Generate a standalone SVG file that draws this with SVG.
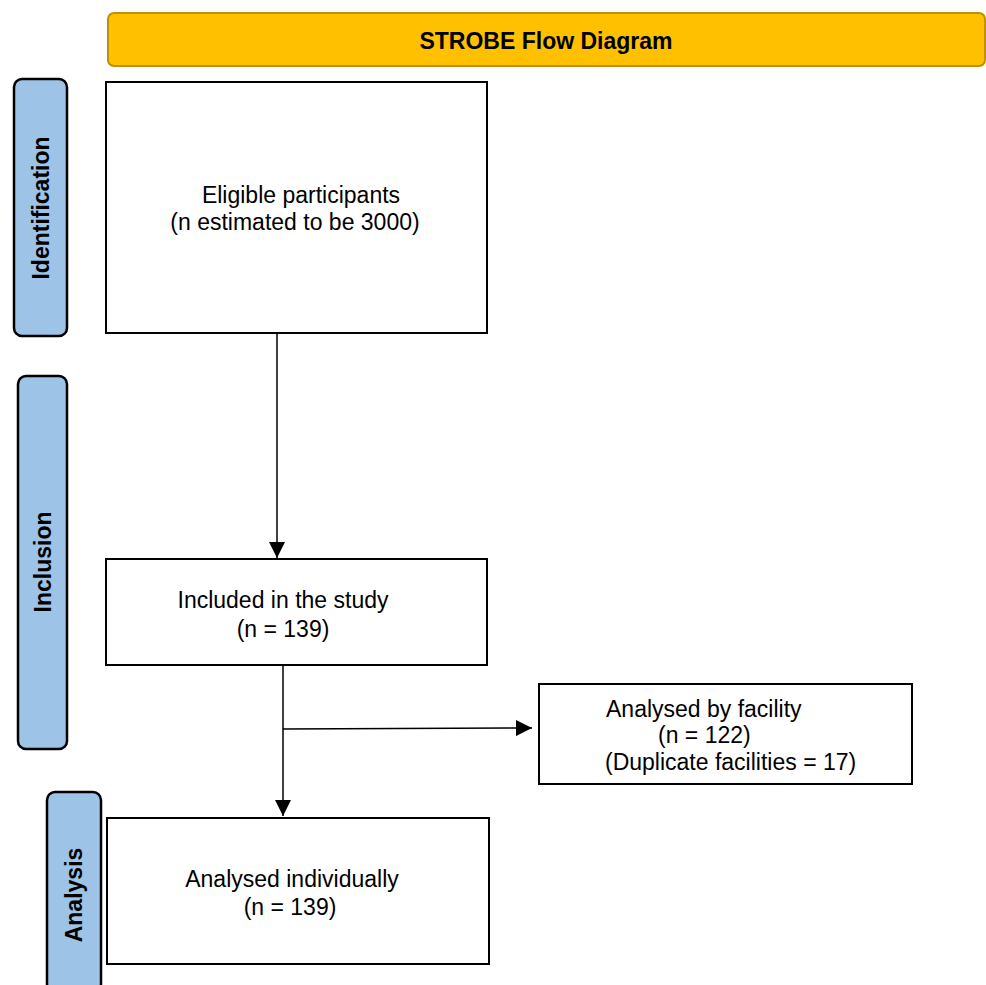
<svg xmlns="http://www.w3.org/2000/svg" width="986" height="985" viewBox="0 0 986 985">
<defs>
<style>
.box{fill:#fff;stroke:#000;stroke-width:2}
.side{fill:#9DC3E6;stroke:#000;stroke-width:2.5}
.t{font-family:"Liberation Sans",Arial,sans-serif;font-size:23px;fill:#000}
.st{font-family:"Liberation Sans",Arial,sans-serif;font-size:23px;font-weight:bold;fill:#000;text-anchor:middle}
.c{fill:none;stroke:#000;stroke-width:1.5}
</style>
<marker id="ah" viewBox="0 0 10 10" refX="10" refY="5" markerWidth="16" markerHeight="16" markerUnits="userSpaceOnUse" orient="auto">
<path d="M0,0 L10,5 L0,10 Z" fill="#000"/>
</marker>
</defs>
<rect width="986" height="985" fill="#fff"/>
<g id="title">
<rect x="108" y="13" width="877" height="53" rx="6" fill="#FFC000" stroke="#BF9000" stroke-width="2"/>
<text x="546" y="49" class="st">STROBE Flow Diagram</text>
</g>
<g id="side-identification">
<rect x="14" y="79" width="53" height="257" rx="8" class="side"/>
<text class="st" transform="translate(49,208) rotate(-90)">Identification</text>
</g>
<g id="side-inclusion">
<rect x="18" y="376" width="49" height="373" rx="8" class="side"/>
<text class="st" transform="translate(51,562) rotate(-90)">Inclusion</text>
</g>
<g id="side-analysis">
<rect x="47" y="792" width="54" height="200" rx="8" class="side"/>
<text class="st" transform="translate(82,895) rotate(-90)">Analysis</text>
</g>
<g id="eligible">
<rect x="106" y="82" width="381" height="251" class="box"/>
<text x="301" y="203" class="t" text-anchor="middle">Eligible participants</text>
<text x="295" y="230" class="t" text-anchor="middle">(n estimated to be 3000)</text>
</g>
<g id="included">
<rect x="106" y="559" width="381" height="106" class="box"/>
<text x="283" y="608" class="t" text-anchor="middle">Included in the study</text>
<text x="283" y="637" class="t" text-anchor="middle">(n = 139)</text>
</g>
<g id="facility">
<rect x="539" y="684" width="373" height="100" class="box"/>
<text x="606" y="717" class="t">Analysed by facility</text>
<text x="658" y="743" class="t">(n = 122)</text>
<text x="605" y="770" class="t">(Duplicate facilities = 17)</text>
</g>
<g id="individual">
<rect x="107" y="818" width="382" height="146" class="box"/>
<text x="292" y="887" class="t" text-anchor="middle">Analysed individually</text>
<text x="290" y="915" class="t" text-anchor="middle">(n = 139)</text>
</g>
<g id="connectors">
<line x1="277" y1="333" x2="277" y2="558" class="c" marker-end="url(#ah)"/>
<line x1="283" y1="665" x2="283" y2="816" class="c" marker-end="url(#ah)"/>
<line x1="283" y1="729" x2="532" y2="728" class="c" marker-end="url(#ah)"/>
</g>
</svg>
